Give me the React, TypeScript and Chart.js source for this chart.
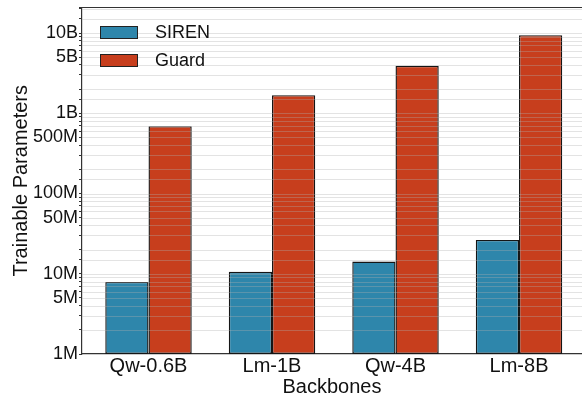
import React, { useEffect, useRef } from "react";
import { Chart, registerables } from "chart.js";

Chart.register(...registerables);

const categories = ["Qw-0.6B", "Lm-1B", "Qw-4B", "Lm-8B"];
const sirenValues = [7.9e6, 10.6e6, 14.2e6, 26.4e6];
const guardValues = [6.9e8, 1.68e9, 3.9e9, 9.4e9];
const seriesNames = ["SIREN", "Guard"];
const labeledTicks = [1e6, 5e6, 1e7, 5e7, 1e8, 5e8, 1e9, 5e9, 1e10];
const labeledText = ["1M", "5M", "10M", "50M", "100M", "500M", "1B", "5B", "10B"];

const FONT = "'Liberation Sans', Arial, Helvetica, sans-serif";
const BLUE = "#2E86AB";
const RED = "#C73E1D";

const overlayPlugin = {
  id: "overlay",
  afterDatasetsDraw(chart: any) {
    const { ctx, chartArea, scales } = chart;
    const y = scales.y;
    ctx.save();
    ctx.strokeStyle = "rgba(175,175,175,0.35)";
    ctx.lineWidth = 1;
    for (const t of y.ticks) {
      const py = Math.round(y.getPixelForValue(t.value)) + 0.5;
      if (py <= chartArea.top + 1 || py >= chartArea.bottom - 1) continue;
      ctx.beginPath();
      ctx.moveTo(chartArea.left, py);
      ctx.lineTo(chartArea.right, py);
      ctx.stroke();
    }
    // frame top
    ctx.strokeStyle = "#333";
    ctx.lineWidth = 1.2;
    ctx.beginPath();
    ctx.moveTo(chartArea.left, chartArea.top);
    ctx.lineTo(chartArea.right, chartArea.top);
    ctx.stroke();
    // legend
    const colors = [BLUE, RED];
    ctx.font = `18px ${FONT}`;
    ctx.textBaseline = "middle";
    ctx.textAlign = "left";
    seriesNames.forEach((name, i) => {
      const bx = chartArea.left + 18;
      const by = chartArea.top + 18.5 + i * 28;
      ctx.fillStyle = colors[i];
      ctx.fillRect(bx, by, 38, 13);
      ctx.strokeStyle = "#222";
      ctx.lineWidth = 1;
      ctx.strokeRect(bx + 0.5, by + 0.5, 37, 12);
      ctx.fillStyle = "#111";
      ctx.fillText(name, bx + 55, by + 7);
    });
    ctx.restore();
  },
};

export default function App() {
  const ref = useRef<HTMLCanvasElement>(null);
  useEffect(() => {
    document.body.style.margin = "0";
    const mk = (vals: number[]) => vals.map((v, i) => ({ x: i, y: v }));
    const chart = new Chart(ref.current!, {
      type: "bar",
      data: {
        datasets: [
          {
            label: seriesNames[0],
            data: mk(sirenValues),
            backgroundColor: BLUE,
            borderColor: "#151515",
            borderWidth: 1.4,
            borderSkipped: false,
            categoryPercentage: 0.7,
            barPercentage: 1,
          },
          {
            label: seriesNames[1],
            data: mk(guardValues),
            backgroundColor: RED,
            borderColor: "#151515",
            borderWidth: 1.4,
            borderSkipped: false,
            categoryPercentage: 0.7,
            barPercentage: 1,
          },
        ],
      } as any,
      options: {
        animation: false,
        responsive: false,
        layout: { padding: { top: 7.5, right: 0, left: 0, bottom: 0 } },
        plugins: { legend: { display: false }, tooltip: { enabled: false } },
        scales: {
          x: {
            type: "linear",
            min: -0.5385,
            max: 3.51,
            offset: false,
            grid: { display: false, drawTicks: false },
            border: { color: "#333", width: 1.2 },
            afterBuildTicks: (s: any) => {
              s.ticks = categories.map((_, i) => ({ value: i }));
            },
            ticks: {
              color: "#111",
              font: { family: FONT, size: 20 },
              padding: 0,
              autoSkip: false,
              maxRotation: 0,
              callback: (v: any) => categories[Number(v)] ?? "",
            },
            title: {
              display: true,
              text: "Backbones",
              color: "#111",
              font: { family: FONT, size: 20 },
              padding: { top: 0, bottom: 1 },
            },
            afterFit: (s: any) => {
              s.height = 46;
              s.paddingLeft = 0;
              s.paddingRight = 0;
            },
          },
          y: {
            type: "logarithmic",
            min: 1e6,
            max: 2.08e10,
            border: { color: "#333", width: 1.2 },
            grid: {
              drawOnChartArea: false,
              drawTicks: true,
              tickLength: 3,
              color: "#333",
            },
            ticks: {
              autoSkip: false,
              color: "#111",
              font: { family: FONT, size: 18 },
              padding: 1,
              callback: (v: any) => {
                const idx = labeledTicks.findIndex((t) => Math.abs(t - Number(v)) / t < 1e-6);
                return idx >= 0 ? labeledText[idx] : "";
              },
            },
            title: {
              display: true,
              text: "Trainable Parameters",
              color: "#111",
              font: { family: FONT, size: 20 },
              padding: { top: 9, bottom: 0 },
            },
            afterFit: (s: any) => {
              s.width = 82;
              s.paddingTop = 0;
              s.paddingBottom = 0;
            },
          },
        },
      } as any,
      plugins: [overlayPlugin],
    });
    return () => chart.destroy();
  }, []);
  return <canvas ref={ref} width={582} height={400} style={{ display: "block" }} />;
}
